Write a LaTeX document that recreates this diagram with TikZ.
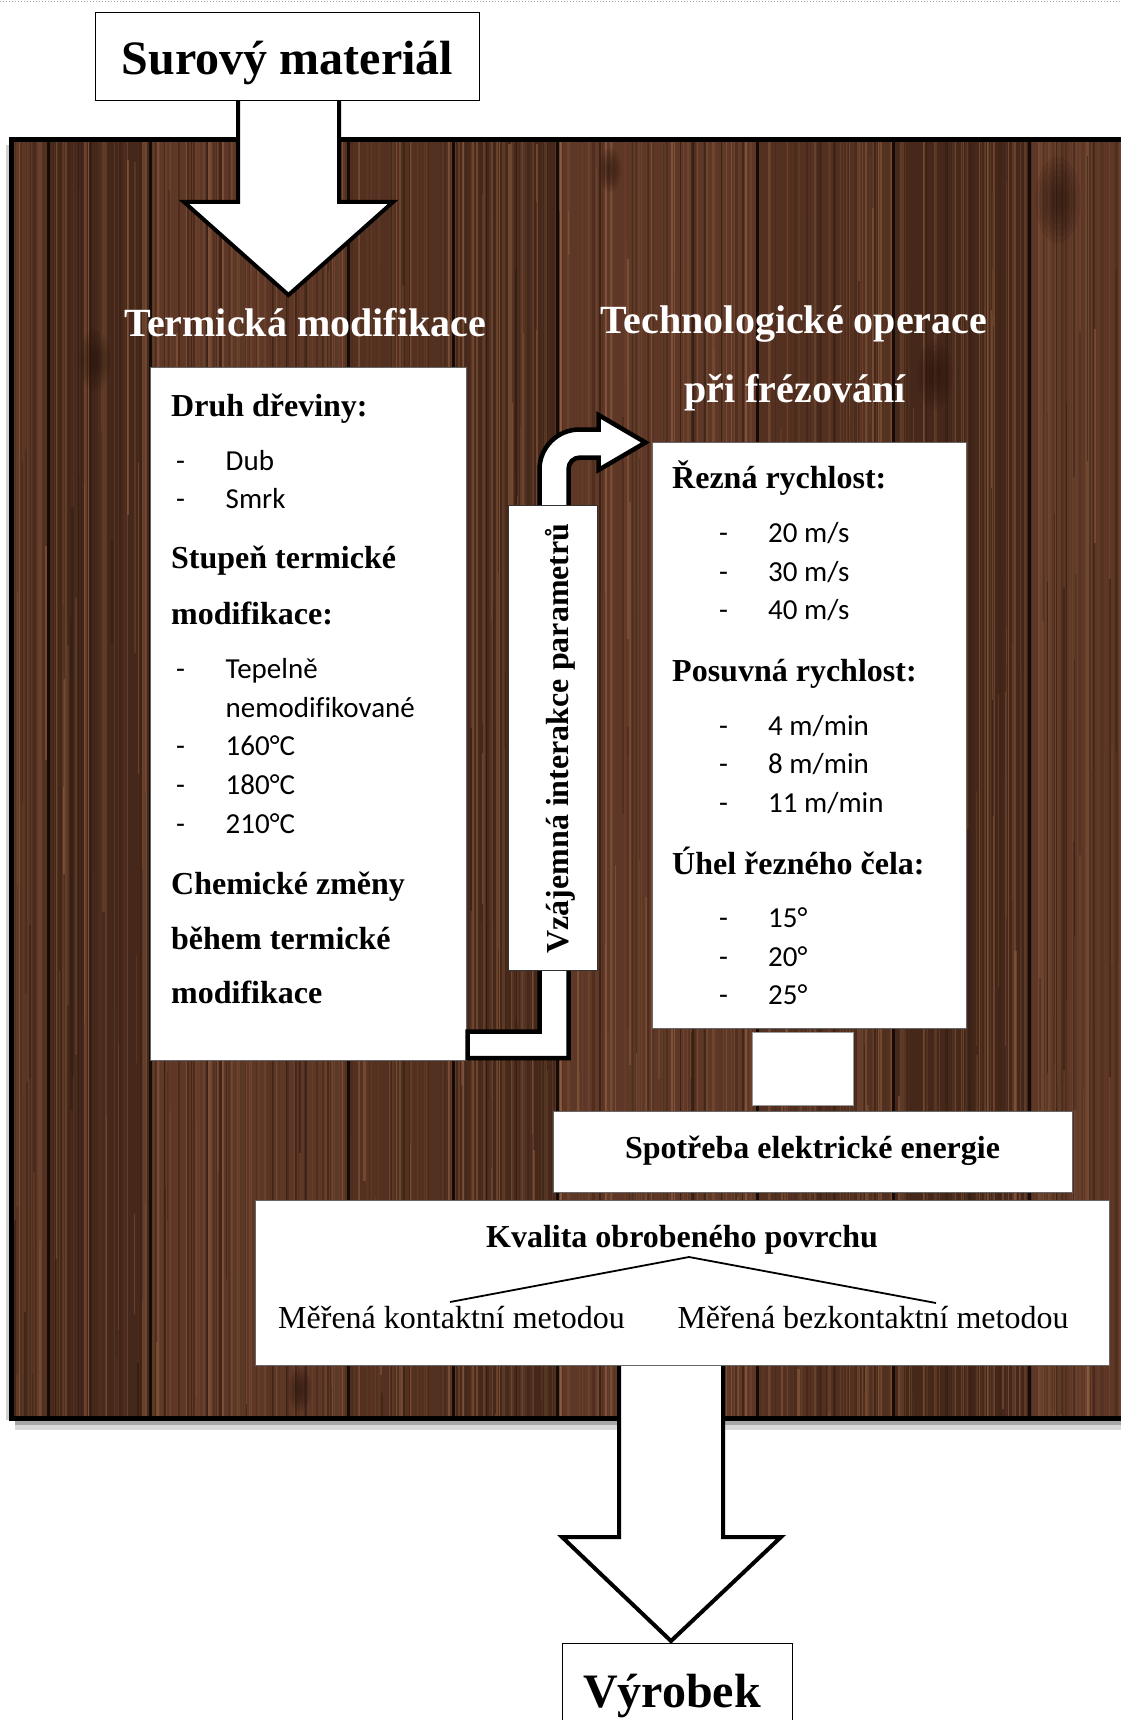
\documentclass[tikz,border=0pt]{standalone}
\usepackage{fontspec}
\setmainfont{Liberation Serif}
\newfontfamily\calib[Ligatures=NoCommon]{Carlito}
\definecolor{wooddark}{HTML}{26140C}
\definecolor{woodmid}{HTML}{5A3424}
\definecolor{woodlight}{HTML}{9A6646}
\definecolor{pA}{HTML}{543020}
\definecolor{pB}{HTML}{46281A}
\definecolor{pC}{HTML}{5E3726}
\definecolor{seam}{HTML}{140A06}
\begin{document}
\begin{tikzpicture}[x=1pt,y=-1pt,
  box/.style={draw=black!60, line width=0.9pt, fill=white, inner sep=0pt},
  hd/.style={font=\bfseries\fontsize{32}{36}\selectfont, anchor=base west, inner sep=0pt},
  itm/.style={font=\calib\fontsize{29}{34}\selectfont, anchor=base west, inner sep=0pt},
  ttl/.style={font=\bfseries\fontsize{40}{44}\selectfont, text=white, anchor=base, inner sep=0pt},
  bigarrow/.style={draw=black, line width=4pt, fill=white, line join=miter},
]
\useasboundingbox (0,0) rectangle (1120,1720);
\fill[white] (0,0) rectangle (1120,1720);
\draw[gray!70, dotted, line width=1pt] (0,1.5) -- (1120,1.5);

% shadow of the wooden panel
\fill[black!35] (15,1418) rectangle (1125,1425);
\fill[black!15] (15,1425) rectangle (1125,1430);
\fill[black!18] (6,145) rectangle (11,1420);

% wooden panel
\begin{scope}
  \clip (11,140) rectangle (1125,1418);
  \foreach \a/\b/\c in {11/48/pA, 48/150/pB, 150/348/pC, 348/453/pA, 453/557/pB, 557/757/pC, 757/893/pA, 893/1029/pB, 1029/1125/pC}
    {\fill[\c] (\a,140) rectangle (\b,1418);}
  \pgfmathsetseed{4242}
  \foreach \i in {1,...,520}{
    \pgfmathsetmacro\gx{11+1114*rnd}
    \pgfmathtruncatemacro\gp{100*rnd}
    \pgfmathsetmacro\gw{0.4+2.4*rnd}
    \pgfmathsetmacro\go{0.2+0.5*rnd}
    \draw[draw=woodlight!\gp!wooddark, line width=\gw pt, opacity=\go] (\gx,140) -- (\gx,1418);
  }
  \foreach \i in {1,...,320}{
    \pgfmathsetmacro\gx{11+1114*rnd}
    \pgfmathsetmacro\gy{140+1278*rnd}
    \pgfmathsetmacro\gl{100+500*rnd}
    \pgfmathtruncatemacro\gp{100*rnd}
    \pgfmathsetmacro\gw{0.5+2*rnd}
    \draw[draw=woodlight!\gp!wooddark, line width=\gw pt, opacity=0.5] (\gx,\gy) -- (\gx,\gy+\gl);
  }
  \foreach \kx/\ky/\kr in {1058/200/1, 935/375/0.8, 95/360/0.7, 1045/1290/0.7, 300/1390/0.5, 610/170/0.5}{
    \foreach \k in {1,...,6}{
      \fill[wooddark, opacity=0.12] (\kx,\ky) ellipse [x radius={\kr*(26-3.5*\k)}, y radius={\kr*(50-6.5*\k)}];
    }
  }
  \foreach \s in {48,150,348,453,557,757,893,1029}
    {\draw[seam, line width=3pt] (\s,140) -- (\s,1418);}
\end{scope}
\draw[black, line width=5pt] (11,140) rectangle (1135,1418);

% top: raw material and arrow
\draw[bigarrow] (238,96) -- (238,202) -- (184,202) -- (288.5,295) -- (393,202) -- (339,202) -- (339,96) -- cycle;
\node[box, draw=black, line width=1.2pt, minimum width=384, minimum height=88, anchor=north west] (raw) at (95,12) {};
\node[font=\bfseries\fontsize{48}{52}\selectfont, anchor=base, inner sep=0pt] (rawt) at (287.5,75) {Surový materiál};

% headings
\node[ttl] (termh) at (305,336) {Termická modifikace};
\node[ttl] (techh1) at (794,333) {Technologické operace};
\node[ttl] (techh2) at (795,402) {při frézování};

% left box
\node[box, minimum width=316, minimum height=693, anchor=north west] (leftbox) at (150,367) {};
\node[hd] (l1) at (171,416) {Druh dřeviny:};
\node[itm] (d1) at (176,470) {-};  \node[itm] (l2) at (225.5,470) {Dub};
\node[itm] (d2) at (176,508.5) {-}; \node[itm] (l3) at (225.5,508.5) {Smrk};
\node[hd] (l4) at (171,568.6) {Stupeň termické};
\node[hd] (l5) at (171,624.7) {modifikace:};
\node[itm] (d3) at (176,678.4) {-}; \node[itm] (l6) at (225.5,678.4) {Tepelně};
\node[itm] (l7) at (225.5,717.4) {nemodifikované};
\node[itm] (d4) at (176,755.5) {-}; \node[itm] (l8) at (225.5,755.5) {160°C};
\node[itm] (d5) at (176,794.5) {-}; \node[itm] (l9) at (225.5,794.5) {180°C};
\node[itm] (d6) at (176,833.6) {-}; \node[itm] (l10) at (225.5,833.6) {210°C};
\node[hd] (l11) at (171,894.6) {Chemické změny};
\node[hd] (l12) at (171,949.7) {během termické};
\node[hd] (l13) at (171,1003.5) {modifikace};

% right box
\node[box, minimum width=314, minimum height=586, anchor=north west] (rightbox) at (652,442) {};
\node[hd] (r1) at (672,488.5) {Řezná rychlost:};
\node[itm] (e1) at (719,542.6) {-}; \node[itm] (r2) at (768,542.6) {20 m/s};
\node[itm] (e2) at (719,581.6) {-}; \node[itm] (r3) at (768,581.6) {30 m/s};
\node[itm] (e3) at (719,619.4) {-}; \node[itm] (r4) at (768,619.4) {40 m/s};
\node[hd] (r5) at (672,681.4) {Posuvná rychlost:};
\node[itm] (e4) at (719,735.6) {-}; \node[itm] (r6) at (768,735.6) {4 m/min};
\node[itm] (e5) at (719,773.8) {-}; \node[itm] (r7) at (768,773.8) {8 m/min};
\node[itm] (e6) at (719,812.4) {-}; \node[itm] (r8) at (768,812.4) {11 m/min};
\node[hd] (r9) at (672,874.4) {Úhel řezného čela:};
\node[itm] (e7) at (719,927.7) {-}; \node[itm] (r10) at (768,927.7) {15°};
\node[itm] (e8) at (719,966.3) {-}; \node[itm] (r11) at (768,966.3) {20°};
\node[itm] (e9) at (719,1004.5) {-}; \node[itm] (r12) at (768,1004.5) {25°};

% bent arrow (interaction)
\draw[draw=black, line width=4.5pt, fill=white, line join=miter]
  (467.5,1031.5) -- (539.5,1031.5) -- (539.5,469.5)
  .. controls (539.5,447.4) and (557.4,429.5) .. (579.5,429.5)
  -- (598.5,429.5) -- (598.5,415) -- (645.5,442.5) -- (598.5,470) -- (598.5,457.5)
  -- (580,457.5) .. controls (573.6,457.5) and (568.5,462.6) .. (568.5,469)
  -- (568.5,1058) -- (467.5,1058) -- cycle;

% vertical box
\node[box, draw=black!80, line width=1pt, minimum width=89, minimum height=465, anchor=north west] (vbox) at (508,505) {};
\node[font=\bfseries\fontsize{32}{36}\selectfont, rotate=90, anchor=base, inner sep=0pt] (vt) at (568,738.5) {Vzájemná interakce parametrů};

% connector square and energy box
\node[box, draw=black!40, minimum width=101, minimum height=73, anchor=north west] (sq) at (752,1032) {};
\node[box, minimum width=519, minimum height=81, anchor=north west] (energy) at (553,1111) {};
\node[font=\bfseries\fontsize{32}{36}\selectfont, anchor=base, inner sep=0pt] (energyt) at (812.5,1158) {Spotřeba elektrické energie};

% bottom arrow and product
\node[box, draw=black, line width=1.2pt, minimum width=230, minimum height=100, anchor=north west] (prod) at (562,1643) {};
\draw[bigarrow] (619,1360) -- (619,1537) -- (562,1537) -- (671,1641) -- (781,1537) -- (723,1537) -- (723,1360) -- cycle;
\node[font=\bfseries\fontsize{48}{52}\selectfont, anchor=base, inner sep=0pt] (prodt) at (672,1707) {Výrobek};

% quality box
\node[box, minimum width=854, minimum height=165, anchor=north west] (qual) at (255,1200) {};
\node[font=\bfseries\fontsize{32}{36}\selectfont, anchor=base, inner sep=0pt] (qualt) at (682,1247) {Kvalita obrobeného povrchu};
\node[font=\fontsize{32}{36}\selectfont, anchor=base, inner sep=0pt] (q1) at (451.5,1328) {Měřená kontaktní metodou};
\node[font=\fontsize{32}{36}\selectfont, anchor=base, inner sep=0pt] (q2) at (873,1328) {Měřená bezkontaktní metodou};
\coordinate (apex) at (689,1257);
\coordinate (lend) at (450,1302);
\coordinate (rend) at (936,1303);
\draw[line width=1.8pt] (lend) -- (apex) -- (rend);
\end{tikzpicture}
\end{document}
